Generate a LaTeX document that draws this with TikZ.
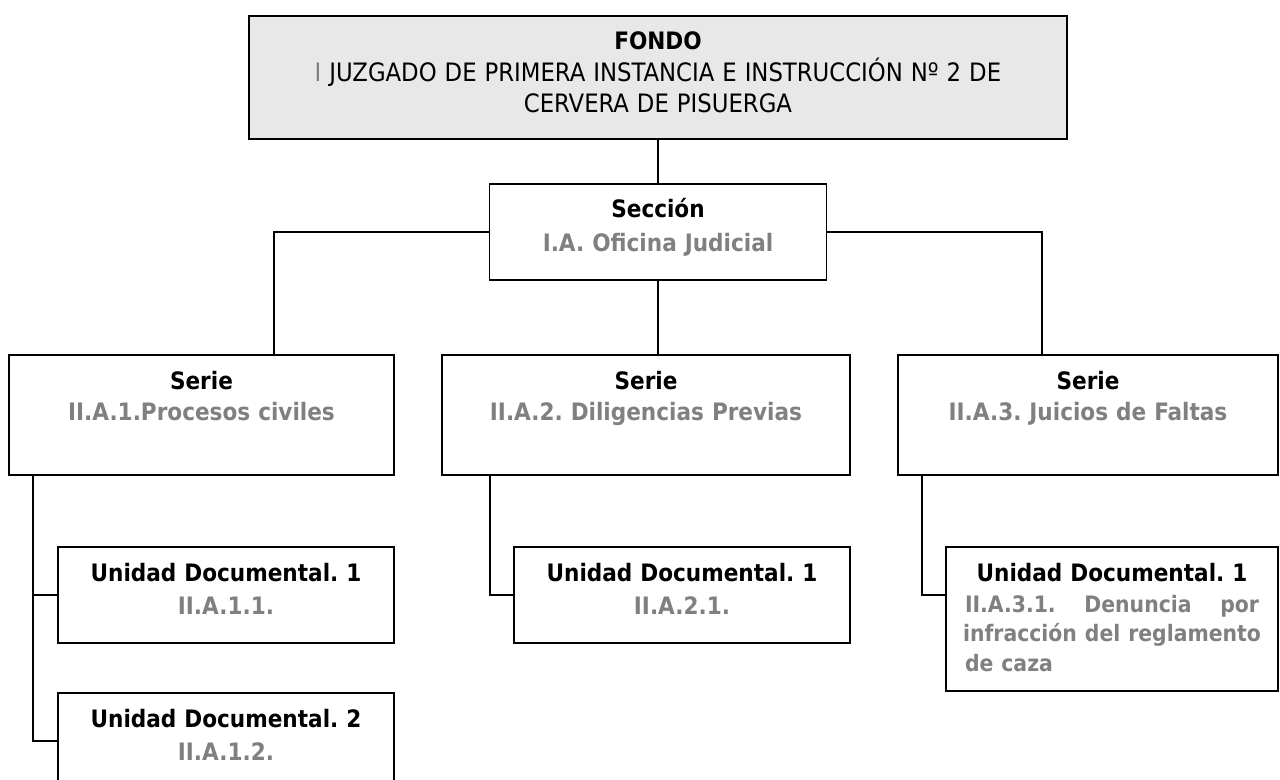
\documentclass[tikz,border=0pt]{standalone}
\usepackage{fontspec}
\setmainfont{DejaVu Sans Condensed}
\usetikzlibrary{positioning}
\frenchspacing

\definecolor{grisref}{RGB}{128,128,128}
\definecolor{fondogris}{RGB}{232,232,232}
\newcommand{\gristexto}[1]{\textcolor{grisref}{#1}}

\begin{document}
\begin{tikzpicture}[
  x=0.75pt, y=-0.75pt,
  caja/.style={rectangle, draw, line width=1.4pt, anchor=north, inner sep=0pt, align=center, font=\bfseries\fontsize{18}{23.5}\selectfont},
  fondo/.style={caja, fill=fondogris, text width=613.5pt, text height=25.5pt, text depth=66.75pt},
  seccion/.style={caja, text width=252.75pt, text height=25.5pt, text depth=46.5pt, font=\bfseries\fontsize{18}{25.5}\selectfont},
  serie/.style={caja, text height=26.25pt, text depth=63.75pt, font=\bfseries\fontsize{18}{23}\selectfont},
  unidad/.style={caja, text width=252pt, text height=26.25pt, text depth=45.75pt, font=\bfseries\fontsize{18}{24.4}\selectfont},
  linea/.style={line width=1.4pt}
]
\useasboundingbox (0,0) rectangle (1280,780);

\node[fondo] (fondo) at (658,15) {FONDO\\ \mdseries\fontsize{19}{23.5}\selectfont\gristexto{I} JUZGADO DE PRIMERA INSTANCIA E INSTRUCCIÓN Nº 2 DE\\ CERVERA DE PISUERGA};
\node[seccion] (seccion) at (658,183) {Sección\\ \gristexto{I.A. Oficina Judicial}};

\node[serie, text width=288.75pt] (s1) at (201.5,354) {Serie\\ \gristexto{II.A.1.Procesos civiles}};
\node[serie, text width=306pt] (s2) at (646,354) {Serie\\ \gristexto{II.A.2. Diligencias Previas}};
\node[serie, text width=285pt] (s3) at (1088,354) {Serie\\ \gristexto{II.A.3. Juicios de Faltas}};

\node[unidad] (u11) at (226,546) {Unidad Documental. 1\\ \gristexto{II.A.1.1.}};
\node[unidad, below=36pt of u11] (u12) {Unidad Documental. 2\\ \gristexto{II.A.1.2.}};
\node[unidad] (u21) at (682,546) {Unidad Documental. 1\\ \gristexto{II.A.2.1.}};
\node[unidad, text width=220.5pt, inner xsep=14.25pt, text depth=81.75pt, align=left, font=\bfseries\fontsize{18}{22.2}\selectfont] (u31) at (1112,546)
  {{\centering Unidad Documental. 1\par}\vspace{1pt}\color{grisref}\fontsize{17}{22}\selectfont%
   \makebox[\linewidth]{II.A.3.1. \hfill Denuncia \hfill por}\\%
   \makebox[\linewidth]{infracción \hfill del \hfill reglamento}\\%
   de caza};

% lineas
\coordinate (s1top) at (274,354);
\coordinate (s3top) at (1042,354);
\coordinate (s1pie) at (33,474);
\coordinate (s2pie) at (490,474);
\coordinate (s3pie) at (922,474);
\draw[linea] (fondo.south) -- (seccion.north);
\draw[linea] (seccion.west) -| (s1top);
\draw[linea] (seccion.east) -| (s3top);
\draw[linea] (seccion.south) -- (seccion.south |- s2.north);
\draw[linea] (s1pie) |- (u11.west);
\draw[linea] (s1pie) |- (u12.west);
\draw[linea] (s2pie) |- (u21.west);
\draw[linea] (s3pie) |- ([yshift=18pt]u31.west);
\end{tikzpicture}
\end{document}
